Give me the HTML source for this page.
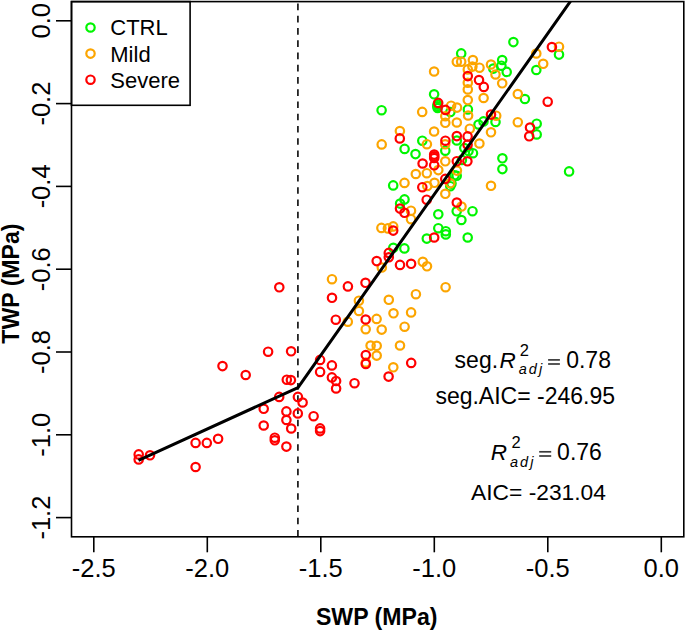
<!DOCTYPE html>
<html><head><meta charset="utf-8"><style>
html,body{margin:0;padding:0;background:#fff;}
svg{display:block;font-family:"Liberation Sans", sans-serif;}
</style></head><body>
<svg width="685" height="630" viewBox="0 0 685 630">
<rect x="0" y="0" width="685" height="630" fill="#fff"/>
<line x1="297.9" y1="1.6" x2="297.9" y2="536.8" stroke="#222" stroke-width="1.8" stroke-dasharray="6.6 5.64" stroke-dashoffset="-2"/>
<circle cx="513.4" cy="42.1" r="4.2" fill="none" stroke="#00f500" stroke-width="2.2"/>
<circle cx="559" cy="54.6" r="4.2" fill="none" stroke="#00f500" stroke-width="2.2"/>
<circle cx="536.3" cy="70" r="4.2" fill="none" stroke="#00f500" stroke-width="2.2"/>
<circle cx="524.9" cy="99" r="4.2" fill="none" stroke="#00f500" stroke-width="2.2"/>
<circle cx="495.5" cy="122" r="4.2" fill="none" stroke="#00f500" stroke-width="2.2"/>
<circle cx="536.7" cy="123.7" r="4.2" fill="none" stroke="#00f500" stroke-width="2.2"/>
<circle cx="536.7" cy="134.4" r="4.2" fill="none" stroke="#00f500" stroke-width="2.2"/>
<circle cx="483.5" cy="121.4" r="4.2" fill="none" stroke="#00f500" stroke-width="2.2"/>
<circle cx="478.5" cy="124.5" r="4.2" fill="none" stroke="#00f500" stroke-width="2.2"/>
<circle cx="502.2" cy="60" r="4.2" fill="none" stroke="#00f500" stroke-width="2.2"/>
<circle cx="501.4" cy="65.7" r="4.2" fill="none" stroke="#00f500" stroke-width="2.2"/>
<circle cx="506.7" cy="71.9" r="4.2" fill="none" stroke="#00f500" stroke-width="2.2"/>
<circle cx="493.3" cy="68.6" r="4.2" fill="none" stroke="#00f500" stroke-width="2.2"/>
<circle cx="461.2" cy="53.4" r="4.2" fill="none" stroke="#00f500" stroke-width="2.2"/>
<circle cx="434.1" cy="94.3" r="4.2" fill="none" stroke="#00f500" stroke-width="2.2"/>
<circle cx="467.9" cy="109.4" r="4.2" fill="none" stroke="#00f500" stroke-width="2.2"/>
<circle cx="381.6" cy="110.2" r="4.2" fill="none" stroke="#00f500" stroke-width="2.2"/>
<circle cx="437.6" cy="104.5" r="4.2" fill="none" stroke="#00f500" stroke-width="2.2"/>
<circle cx="437.3" cy="106.2" r="4.2" fill="none" stroke="#00f500" stroke-width="2.2"/>
<circle cx="437.6" cy="108" r="4.2" fill="none" stroke="#00f500" stroke-width="2.2"/>
<circle cx="450.4" cy="112" r="4.2" fill="none" stroke="#00f500" stroke-width="2.2"/>
<circle cx="404.6" cy="148.9" r="4.2" fill="none" stroke="#00f500" stroke-width="2.2"/>
<circle cx="415.5" cy="154.1" r="4.2" fill="none" stroke="#00f500" stroke-width="2.2"/>
<circle cx="422.3" cy="140.7" r="4.2" fill="none" stroke="#00f500" stroke-width="2.2"/>
<circle cx="445.3" cy="150.7" r="4.2" fill="none" stroke="#00f500" stroke-width="2.2"/>
<circle cx="456.8" cy="140.5" r="4.2" fill="none" stroke="#00f500" stroke-width="2.2"/>
<circle cx="464.3" cy="148" r="4.2" fill="none" stroke="#00f500" stroke-width="2.2"/>
<circle cx="468.5" cy="151" r="4.2" fill="none" stroke="#00f500" stroke-width="2.2"/>
<circle cx="473" cy="153.2" r="4.2" fill="none" stroke="#00f500" stroke-width="2.2"/>
<circle cx="461.9" cy="159.9" r="4.2" fill="none" stroke="#00f500" stroke-width="2.2"/>
<circle cx="502.4" cy="158.3" r="4.2" fill="none" stroke="#00f500" stroke-width="2.2"/>
<circle cx="502.4" cy="169.1" r="4.2" fill="none" stroke="#00f500" stroke-width="2.2"/>
<circle cx="569.1" cy="171.4" r="4.2" fill="none" stroke="#00f500" stroke-width="2.2"/>
<circle cx="456.7" cy="175.7" r="4.2" fill="none" stroke="#00f500" stroke-width="2.2"/>
<circle cx="454.6" cy="175.3" r="4.2" fill="none" stroke="#00f500" stroke-width="2.2"/>
<circle cx="451.5" cy="183.6" r="4.2" fill="none" stroke="#00f500" stroke-width="2.2"/>
<circle cx="450.3" cy="186.2" r="4.2" fill="none" stroke="#00f500" stroke-width="2.2"/>
<circle cx="393.2" cy="185.4" r="4.2" fill="none" stroke="#00f500" stroke-width="2.2"/>
<circle cx="404.5" cy="199.4" r="4.2" fill="none" stroke="#00f500" stroke-width="2.2"/>
<circle cx="400.1" cy="203.6" r="4.2" fill="none" stroke="#00f500" stroke-width="2.2"/>
<circle cx="393.3" cy="247.8" r="4.2" fill="none" stroke="#00f500" stroke-width="2.2"/>
<circle cx="404.4" cy="248.4" r="4.2" fill="none" stroke="#00f500" stroke-width="2.2"/>
<circle cx="456.7" cy="211.3" r="4.2" fill="none" stroke="#00f500" stroke-width="2.2"/>
<circle cx="472.5" cy="211.2" r="4.2" fill="none" stroke="#00f500" stroke-width="2.2"/>
<circle cx="461.4" cy="220" r="4.2" fill="none" stroke="#00f500" stroke-width="2.2"/>
<circle cx="438.3" cy="214.3" r="4.2" fill="none" stroke="#00f500" stroke-width="2.2"/>
<circle cx="438.3" cy="228.2" r="4.2" fill="none" stroke="#00f500" stroke-width="2.2"/>
<circle cx="445.8" cy="231.2" r="4.2" fill="none" stroke="#00f500" stroke-width="2.2"/>
<circle cx="445.8" cy="234.4" r="4.2" fill="none" stroke="#00f500" stroke-width="2.2"/>
<circle cx="467.7" cy="237.5" r="4.2" fill="none" stroke="#00f500" stroke-width="2.2"/>
<circle cx="426.8" cy="238.6" r="4.2" fill="none" stroke="#00f500" stroke-width="2.2"/>
<circle cx="358.9" cy="311" r="4.2" fill="none" stroke="#fca500" stroke-width="2.2"/>
<circle cx="393.5" cy="313.3" r="4.2" fill="none" stroke="#fca500" stroke-width="2.2"/>
<circle cx="376.6" cy="318.9" r="4.2" fill="none" stroke="#fca500" stroke-width="2.2"/>
<circle cx="347.8" cy="321.7" r="4.2" fill="none" stroke="#fca500" stroke-width="2.2"/>
<circle cx="365.7" cy="329.2" r="4.2" fill="none" stroke="#fca500" stroke-width="2.2"/>
<circle cx="381.7" cy="329.6" r="4.2" fill="none" stroke="#fca500" stroke-width="2.2"/>
<circle cx="404.6" cy="326.7" r="4.2" fill="none" stroke="#fca500" stroke-width="2.2"/>
<circle cx="411.1" cy="312.4" r="4.2" fill="none" stroke="#fca500" stroke-width="2.2"/>
<circle cx="370.6" cy="345.6" r="4.2" fill="none" stroke="#fca500" stroke-width="2.2"/>
<circle cx="376.7" cy="345.8" r="4.2" fill="none" stroke="#fca500" stroke-width="2.2"/>
<circle cx="400" cy="345.5" r="4.2" fill="none" stroke="#fca500" stroke-width="2.2"/>
<circle cx="376.7" cy="355.6" r="4.2" fill="none" stroke="#fca500" stroke-width="2.2"/>
<circle cx="365.8" cy="362.5" r="4.2" fill="none" stroke="#fca500" stroke-width="2.2"/>
<circle cx="393.3" cy="367.3" r="4.2" fill="none" stroke="#fca500" stroke-width="2.2"/>
<circle cx="332" cy="279.2" r="4.2" fill="none" stroke="#fca500" stroke-width="2.2"/>
<circle cx="358.9" cy="300.7" r="4.2" fill="none" stroke="#fca500" stroke-width="2.2"/>
<circle cx="388.8" cy="299.8" r="4.2" fill="none" stroke="#fca500" stroke-width="2.2"/>
<circle cx="415.9" cy="294.2" r="4.2" fill="none" stroke="#fca500" stroke-width="2.2"/>
<circle cx="445.6" cy="287.2" r="4.2" fill="none" stroke="#fca500" stroke-width="2.2"/>
<circle cx="381.8" cy="267.5" r="4.2" fill="none" stroke="#fca500" stroke-width="2.2"/>
<circle cx="422.8" cy="261.8" r="4.2" fill="none" stroke="#fca500" stroke-width="2.2"/>
<circle cx="427" cy="266.3" r="4.2" fill="none" stroke="#fca500" stroke-width="2.2"/>
<circle cx="381.4" cy="227.9" r="4.2" fill="none" stroke="#fca500" stroke-width="2.2"/>
<circle cx="387.9" cy="228.4" r="4.2" fill="none" stroke="#fca500" stroke-width="2.2"/>
<circle cx="393.2" cy="226.4" r="4.2" fill="none" stroke="#fca500" stroke-width="2.2"/>
<circle cx="411" cy="210.7" r="4.2" fill="none" stroke="#fca500" stroke-width="2.2"/>
<circle cx="411" cy="219.2" r="4.2" fill="none" stroke="#fca500" stroke-width="2.2"/>
<circle cx="404.5" cy="182.9" r="4.2" fill="none" stroke="#fca500" stroke-width="2.2"/>
<circle cx="415.8" cy="174" r="4.2" fill="none" stroke="#fca500" stroke-width="2.2"/>
<circle cx="426.8" cy="173.2" r="4.2" fill="none" stroke="#fca500" stroke-width="2.2"/>
<circle cx="434.5" cy="182.8" r="4.2" fill="none" stroke="#fca500" stroke-width="2.2"/>
<circle cx="427.3" cy="186" r="4.2" fill="none" stroke="#fca500" stroke-width="2.2"/>
<circle cx="438.3" cy="170.1" r="4.2" fill="none" stroke="#fca500" stroke-width="2.2"/>
<circle cx="445.3" cy="193.8" r="4.2" fill="none" stroke="#fca500" stroke-width="2.2"/>
<circle cx="450.3" cy="183.3" r="4.2" fill="none" stroke="#fca500" stroke-width="2.2"/>
<circle cx="456.9" cy="170.6" r="4.2" fill="none" stroke="#fca500" stroke-width="2.2"/>
<circle cx="461.5" cy="206.5" r="4.2" fill="none" stroke="#fca500" stroke-width="2.2"/>
<circle cx="491" cy="185.8" r="4.2" fill="none" stroke="#fca500" stroke-width="2.2"/>
<circle cx="399.9" cy="131" r="4.2" fill="none" stroke="#fca500" stroke-width="2.2"/>
<circle cx="381.7" cy="144.4" r="4.2" fill="none" stroke="#fca500" stroke-width="2.2"/>
<circle cx="426.9" cy="144.2" r="4.2" fill="none" stroke="#fca500" stroke-width="2.2"/>
<circle cx="434.1" cy="131.5" r="4.2" fill="none" stroke="#fca500" stroke-width="2.2"/>
<circle cx="422.2" cy="111.9" r="4.2" fill="none" stroke="#fca500" stroke-width="2.2"/>
<circle cx="445.2" cy="144.3" r="4.2" fill="none" stroke="#fca500" stroke-width="2.2"/>
<circle cx="445.3" cy="161.3" r="4.2" fill="none" stroke="#fca500" stroke-width="2.2"/>
<circle cx="434.1" cy="71.5" r="4.2" fill="none" stroke="#fca500" stroke-width="2.2"/>
<circle cx="451.1" cy="105.7" r="4.2" fill="none" stroke="#fca500" stroke-width="2.2"/>
<circle cx="457.0" cy="107.6" r="4.2" fill="none" stroke="#fca500" stroke-width="2.2"/>
<circle cx="445.3" cy="116.2" r="4.2" fill="none" stroke="#fca500" stroke-width="2.2"/>
<circle cx="445.3" cy="122.8" r="4.2" fill="none" stroke="#fca500" stroke-width="2.2"/>
<circle cx="456.8" cy="122.5" r="4.2" fill="none" stroke="#fca500" stroke-width="2.2"/>
<circle cx="468.1" cy="115.5" r="4.2" fill="none" stroke="#fca500" stroke-width="2.2"/>
<circle cx="469.8" cy="128.7" r="4.2" fill="none" stroke="#fca500" stroke-width="2.2"/>
<circle cx="456.8" cy="61.7" r="4.2" fill="none" stroke="#fca500" stroke-width="2.2"/>
<circle cx="461.2" cy="61.7" r="4.2" fill="none" stroke="#fca500" stroke-width="2.2"/>
<circle cx="472.9" cy="60" r="4.2" fill="none" stroke="#fca500" stroke-width="2.2"/>
<circle cx="472.4" cy="66.6" r="4.2" fill="none" stroke="#fca500" stroke-width="2.2"/>
<circle cx="479.5" cy="67.7" r="4.2" fill="none" stroke="#fca500" stroke-width="2.2"/>
<circle cx="467.8" cy="69.4" r="4.2" fill="none" stroke="#fca500" stroke-width="2.2"/>
<circle cx="467.8" cy="82.8" r="4.2" fill="none" stroke="#fca500" stroke-width="2.2"/>
<circle cx="467.8" cy="89.4" r="4.2" fill="none" stroke="#fca500" stroke-width="2.2"/>
<circle cx="467.8" cy="100.1" r="4.2" fill="none" stroke="#fca500" stroke-width="2.2"/>
<circle cx="483.6" cy="98" r="4.2" fill="none" stroke="#fca500" stroke-width="2.2"/>
<circle cx="491" cy="64.5" r="4.2" fill="none" stroke="#fca500" stroke-width="2.2"/>
<circle cx="495.5" cy="74.5" r="4.2" fill="none" stroke="#fca500" stroke-width="2.2"/>
<circle cx="502.2" cy="83.3" r="4.2" fill="none" stroke="#fca500" stroke-width="2.2"/>
<circle cx="517.8" cy="94" r="4.2" fill="none" stroke="#fca500" stroke-width="2.2"/>
<circle cx="496.2" cy="115.7" r="4.2" fill="none" stroke="#fca500" stroke-width="2.2"/>
<circle cx="517.8" cy="122.2" r="4.2" fill="none" stroke="#fca500" stroke-width="2.2"/>
<circle cx="491" cy="132.3" r="4.2" fill="none" stroke="#fca500" stroke-width="2.2"/>
<circle cx="479.4" cy="143.5" r="4.2" fill="none" stroke="#fca500" stroke-width="2.2"/>
<circle cx="559" cy="46.7" r="4.2" fill="none" stroke="#fca500" stroke-width="2.2"/>
<circle cx="536.3" cy="53.5" r="4.2" fill="none" stroke="#fca500" stroke-width="2.2"/>
<circle cx="543.2" cy="63.8" r="4.2" fill="none" stroke="#fca500" stroke-width="2.2"/>
<circle cx="279.3" cy="287.3" r="4.2" fill="none" stroke="#ff0000" stroke-width="2.2"/>
<circle cx="268.1" cy="351.7" r="4.2" fill="none" stroke="#ff0000" stroke-width="2.2"/>
<circle cx="291.1" cy="351.3" r="4.2" fill="none" stroke="#ff0000" stroke-width="2.2"/>
<circle cx="222.5" cy="366.1" r="4.2" fill="none" stroke="#ff0000" stroke-width="2.2"/>
<circle cx="245.7" cy="375" r="4.2" fill="none" stroke="#ff0000" stroke-width="2.2"/>
<circle cx="286.8" cy="379.7" r="4.2" fill="none" stroke="#ff0000" stroke-width="2.2"/>
<circle cx="290.9" cy="380.1" r="4.2" fill="none" stroke="#ff0000" stroke-width="2.2"/>
<circle cx="279.2" cy="396.9" r="4.2" fill="none" stroke="#ff0000" stroke-width="2.2"/>
<circle cx="297.9" cy="396.9" r="4.2" fill="none" stroke="#ff0000" stroke-width="2.2"/>
<circle cx="302.6" cy="402.5" r="4.2" fill="none" stroke="#ff0000" stroke-width="2.2"/>
<circle cx="263.7" cy="408.8" r="4.2" fill="none" stroke="#ff0000" stroke-width="2.2"/>
<circle cx="286.4" cy="411.4" r="4.2" fill="none" stroke="#ff0000" stroke-width="2.2"/>
<circle cx="297.8" cy="413.4" r="4.2" fill="none" stroke="#ff0000" stroke-width="2.2"/>
<circle cx="313.6" cy="416.2" r="4.2" fill="none" stroke="#ff0000" stroke-width="2.2"/>
<circle cx="286.4" cy="420" r="4.2" fill="none" stroke="#ff0000" stroke-width="2.2"/>
<circle cx="263.7" cy="425.5" r="4.2" fill="none" stroke="#ff0000" stroke-width="2.2"/>
<circle cx="291.2" cy="428.5" r="4.2" fill="none" stroke="#ff0000" stroke-width="2.2"/>
<circle cx="320.1" cy="428.4" r="4.2" fill="none" stroke="#ff0000" stroke-width="2.2"/>
<circle cx="320.1" cy="431.1" r="4.2" fill="none" stroke="#ff0000" stroke-width="2.2"/>
<circle cx="274.8" cy="437.7" r="4.2" fill="none" stroke="#ff0000" stroke-width="2.2"/>
<circle cx="274.8" cy="440.3" r="4.2" fill="none" stroke="#ff0000" stroke-width="2.2"/>
<circle cx="286.4" cy="446.6" r="4.2" fill="none" stroke="#ff0000" stroke-width="2.2"/>
<circle cx="195.6" cy="442.9" r="4.2" fill="none" stroke="#ff0000" stroke-width="2.2"/>
<circle cx="206.8" cy="442.9" r="4.2" fill="none" stroke="#ff0000" stroke-width="2.2"/>
<circle cx="218.1" cy="438.8" r="4.2" fill="none" stroke="#ff0000" stroke-width="2.2"/>
<circle cx="195.6" cy="467" r="4.2" fill="none" stroke="#ff0000" stroke-width="2.2"/>
<circle cx="138.7" cy="454.4" r="4.2" fill="none" stroke="#ff0000" stroke-width="2.2"/>
<circle cx="138.7" cy="459.4" r="4.2" fill="none" stroke="#ff0000" stroke-width="2.2"/>
<circle cx="150" cy="455.3" r="4.2" fill="none" stroke="#ff0000" stroke-width="2.2"/>
<circle cx="320.1" cy="359.9" r="4.2" fill="none" stroke="#ff0000" stroke-width="2.2"/>
<circle cx="320.1" cy="371.9" r="4.2" fill="none" stroke="#ff0000" stroke-width="2.2"/>
<circle cx="331.9" cy="365.4" r="4.2" fill="none" stroke="#ff0000" stroke-width="2.2"/>
<circle cx="331.9" cy="377.4" r="4.2" fill="none" stroke="#ff0000" stroke-width="2.2"/>
<circle cx="336.1" cy="381" r="4.2" fill="none" stroke="#ff0000" stroke-width="2.2"/>
<circle cx="336.1" cy="388.5" r="4.2" fill="none" stroke="#ff0000" stroke-width="2.2"/>
<circle cx="354.5" cy="383.2" r="4.2" fill="none" stroke="#ff0000" stroke-width="2.2"/>
<circle cx="365.7" cy="319.5" r="4.2" fill="none" stroke="#ff0000" stroke-width="2.2"/>
<circle cx="365.8" cy="355.1" r="4.2" fill="none" stroke="#ff0000" stroke-width="2.2"/>
<circle cx="365.8" cy="363.9" r="4.2" fill="none" stroke="#ff0000" stroke-width="2.2"/>
<circle cx="388.6" cy="376.6" r="4.2" fill="none" stroke="#ff0000" stroke-width="2.2"/>
<circle cx="411.2" cy="362.9" r="4.2" fill="none" stroke="#ff0000" stroke-width="2.2"/>
<circle cx="332" cy="297.8" r="4.2" fill="none" stroke="#ff0000" stroke-width="2.2"/>
<circle cx="335.8" cy="319.7" r="4.2" fill="none" stroke="#ff0000" stroke-width="2.2"/>
<circle cx="347.9" cy="286.4" r="4.2" fill="none" stroke="#ff0000" stroke-width="2.2"/>
<circle cx="365.5" cy="282.8" r="4.2" fill="none" stroke="#ff0000" stroke-width="2.2"/>
<circle cx="376.7" cy="261.1" r="4.2" fill="none" stroke="#ff0000" stroke-width="2.2"/>
<circle cx="388.8" cy="252.9" r="4.2" fill="none" stroke="#ff0000" stroke-width="2.2"/>
<circle cx="388.8" cy="257.3" r="4.2" fill="none" stroke="#ff0000" stroke-width="2.2"/>
<circle cx="400" cy="264.9" r="4.2" fill="none" stroke="#ff0000" stroke-width="2.2"/>
<circle cx="411.1" cy="263.8" r="4.2" fill="none" stroke="#ff0000" stroke-width="2.2"/>
<circle cx="393.2" cy="230.6" r="4.2" fill="none" stroke="#ff0000" stroke-width="2.2"/>
<circle cx="434.2" cy="237.5" r="4.2" fill="none" stroke="#ff0000" stroke-width="2.2"/>
<circle cx="400" cy="208.6" r="4.2" fill="none" stroke="#ff0000" stroke-width="2.2"/>
<circle cx="404.5" cy="212.8" r="4.2" fill="none" stroke="#ff0000" stroke-width="2.2"/>
<circle cx="426.7" cy="199.7" r="4.2" fill="none" stroke="#ff0000" stroke-width="2.2"/>
<circle cx="422.3" cy="187.2" r="4.2" fill="none" stroke="#ff0000" stroke-width="2.2"/>
<circle cx="445.3" cy="178.9" r="4.2" fill="none" stroke="#ff0000" stroke-width="2.2"/>
<circle cx="456.8" cy="202.5" r="4.2" fill="none" stroke="#ff0000" stroke-width="2.2"/>
<circle cx="422.6" cy="163.5" r="4.2" fill="none" stroke="#ff0000" stroke-width="2.2"/>
<circle cx="434.2" cy="154.6" r="4.2" fill="none" stroke="#ff0000" stroke-width="2.2"/>
<circle cx="434.2" cy="156.3" r="4.2" fill="none" stroke="#ff0000" stroke-width="2.2"/>
<circle cx="434.2" cy="158" r="4.2" fill="none" stroke="#ff0000" stroke-width="2.2"/>
<circle cx="434.2" cy="165.3" r="4.2" fill="none" stroke="#ff0000" stroke-width="2.2"/>
<circle cx="399.8" cy="138.4" r="4.2" fill="none" stroke="#ff0000" stroke-width="2.2"/>
<circle cx="445.4" cy="140.7" r="4.2" fill="none" stroke="#ff0000" stroke-width="2.2"/>
<circle cx="456.8" cy="136.1" r="4.2" fill="none" stroke="#ff0000" stroke-width="2.2"/>
<circle cx="467.6" cy="136.4" r="4.2" fill="none" stroke="#ff0000" stroke-width="2.2"/>
<circle cx="467.6" cy="144.7" r="4.2" fill="none" stroke="#ff0000" stroke-width="2.2"/>
<circle cx="456.8" cy="161.2" r="4.2" fill="none" stroke="#ff0000" stroke-width="2.2"/>
<circle cx="467.4" cy="161.3" r="4.2" fill="none" stroke="#ff0000" stroke-width="2.2"/>
<circle cx="438.2" cy="102.9" r="4.2" fill="none" stroke="#ff0000" stroke-width="2.2"/>
<circle cx="445.5" cy="109.9" r="4.2" fill="none" stroke="#ff0000" stroke-width="2.2"/>
<circle cx="467.8" cy="76.1" r="4.2" fill="none" stroke="#ff0000" stroke-width="2.2"/>
<circle cx="479" cy="80" r="4.2" fill="none" stroke="#ff0000" stroke-width="2.2"/>
<circle cx="483.8" cy="86.9" r="4.2" fill="none" stroke="#ff0000" stroke-width="2.2"/>
<circle cx="551.9" cy="47.1" r="4.2" fill="none" stroke="#ff0000" stroke-width="2.2"/>
<circle cx="547.7" cy="101.7" r="4.2" fill="none" stroke="#ff0000" stroke-width="2.2"/>
<circle cx="491" cy="114.6" r="4.2" fill="none" stroke="#ff0000" stroke-width="2.2"/>
<circle cx="530" cy="127.5" r="4.2" fill="none" stroke="#ff0000" stroke-width="2.2"/>
<circle cx="529.2" cy="136.3" r="4.2" fill="none" stroke="#ff0000" stroke-width="2.2"/>
<clipPath id="pc"><rect x="71.5" y="1.6" width="612.3" height="535.1999999999999"/></clipPath><polyline clip-path="url(#pc)" points="138.5,460.4 298,387.6 575.6,-6" fill="none" stroke="#000" stroke-width="3.0" stroke-linejoin="round"/>
<rect x="71.5" y="1.6" width="118.6" height="103.7" fill="#fff" stroke="#000" stroke-width="1.6"/>
<circle cx="90.5" cy="27.5" r="4.2" fill="none" stroke="#00f500" stroke-width="2.2"/>
<text x="110.3" y="35.4" font-size="22" fill="#000">CTRL</text>
<circle cx="90.5" cy="53.6" r="4.2" fill="none" stroke="#fca500" stroke-width="2.2"/>
<text x="110.3" y="61.5" font-size="22" fill="#000">Mild</text>
<circle cx="90.5" cy="79.7" r="4.2" fill="none" stroke="#ff0000" stroke-width="2.2"/>
<text x="110.3" y="87.60000000000001" font-size="22" fill="#000">Severe</text>
<rect x="71.5" y="1.6" width="612.3" height="535.1999999999999" fill="none" stroke="#000" stroke-width="1.6"/>
<line x1="93.8" y1="536.8" x2="93.8" y2="552.3" stroke="#000" stroke-width="1.6"/>
<text x="93.8" y="576.6" font-size="25.5" text-anchor="middle" fill="#000">-2.5</text>
<line x1="207.3" y1="536.8" x2="207.3" y2="552.3" stroke="#000" stroke-width="1.6"/>
<text x="207.3" y="576.6" font-size="25.5" text-anchor="middle" fill="#000">-2.0</text>
<line x1="320.8" y1="536.8" x2="320.8" y2="552.3" stroke="#000" stroke-width="1.6"/>
<text x="320.8" y="576.6" font-size="25.5" text-anchor="middle" fill="#000">-1.5</text>
<line x1="434.3" y1="536.8" x2="434.3" y2="552.3" stroke="#000" stroke-width="1.6"/>
<text x="434.3" y="576.6" font-size="25.5" text-anchor="middle" fill="#000">-1.0</text>
<line x1="547.8" y1="536.8" x2="547.8" y2="552.3" stroke="#000" stroke-width="1.6"/>
<text x="547.8" y="576.6" font-size="25.5" text-anchor="middle" fill="#000">-0.5</text>
<line x1="661.3" y1="536.8" x2="661.3" y2="552.3" stroke="#000" stroke-width="1.6"/>
<text x="661.3" y="576.6" font-size="25.5" text-anchor="middle" fill="#000">0.0</text>
<line x1="56.0" y1="20.8" x2="71.5" y2="20.8" stroke="#000" stroke-width="1.6"/>
<text transform="translate(49.5,20.8) rotate(-90)" x="0" y="0" font-size="25.5" text-anchor="middle" fill="#000">0.0</text>
<line x1="56.0" y1="103.6" x2="71.5" y2="103.6" stroke="#000" stroke-width="1.6"/>
<text transform="translate(49.5,103.6) rotate(-90)" x="0" y="0" font-size="25.5" text-anchor="middle" fill="#000">-0.2</text>
<line x1="56.0" y1="186.4" x2="71.5" y2="186.4" stroke="#000" stroke-width="1.6"/>
<text transform="translate(49.5,186.4) rotate(-90)" x="0" y="0" font-size="25.5" text-anchor="middle" fill="#000">-0.4</text>
<line x1="56.0" y1="269.2" x2="71.5" y2="269.2" stroke="#000" stroke-width="1.6"/>
<text transform="translate(49.5,269.2) rotate(-90)" x="0" y="0" font-size="25.5" text-anchor="middle" fill="#000">-0.6</text>
<line x1="56.0" y1="352.0" x2="71.5" y2="352.0" stroke="#000" stroke-width="1.6"/>
<text transform="translate(49.5,352.0) rotate(-90)" x="0" y="0" font-size="25.5" text-anchor="middle" fill="#000">-0.8</text>
<line x1="56.0" y1="434.8" x2="71.5" y2="434.8" stroke="#000" stroke-width="1.6"/>
<text transform="translate(49.5,434.8) rotate(-90)" x="0" y="0" font-size="25.5" text-anchor="middle" fill="#000">-1.0</text>
<line x1="56.0" y1="517.6" x2="71.5" y2="517.6" stroke="#000" stroke-width="1.6"/>
<text transform="translate(49.5,517.6) rotate(-90)" x="0" y="0" font-size="25.5" text-anchor="middle" fill="#000">-1.2</text>
<text x="376.7" y="624.5" font-size="23.1" font-weight="bold" text-anchor="middle" fill="#000">SWP (MPa)</text>
<text transform="translate(18.5,283.6) rotate(-90)" font-size="23.1" font-weight="bold" text-anchor="middle" fill="#000">TWP (MPa)</text>

<text x="454.6" y="367.6" font-size="23" fill="#000">seg.</text>
<text x="499.6" y="367.7" font-size="22.5" font-style="italic" fill="#000">R</text>
<text x="519.8" y="356" font-size="16.5" fill="#000">2</text>
<text x="518.8" y="374.1" font-size="14.5" font-style="italic" letter-spacing="2" fill="#000">adj</text>
<rect x="548.1" y="359.05" width="11.8" height="1.7" fill="#3a3a3a"/>
<rect x="548.1" y="363.15" width="11.8" height="1.7" fill="#3a3a3a"/>
<text x="566.2" y="367.7" font-size="23" fill="#000">0.78</text>
<text x="435.4" y="403.6" font-size="23" fill="#000">seg.AIC= -246.95</text>
<text x="490.8" y="459.8" font-size="22.5" font-style="italic" fill="#000">R</text>
<text x="511.4" y="448" font-size="16.5" fill="#000">2</text>
<text x="510" y="466.5" font-size="14.5" font-style="italic" letter-spacing="2" fill="#000">adj</text>
<rect x="539.2" y="450.95" width="12" height="1.7" fill="#3a3a3a"/>
<rect x="539.2" y="455.15" width="12" height="1.7" fill="#3a3a3a"/>
<text x="557.1" y="459.5" font-size="23" fill="#000">0.76</text>
<text x="471.0" y="500.2" font-size="22.8" fill="#000">AIC= -231.04</text>

</svg></body></html>
